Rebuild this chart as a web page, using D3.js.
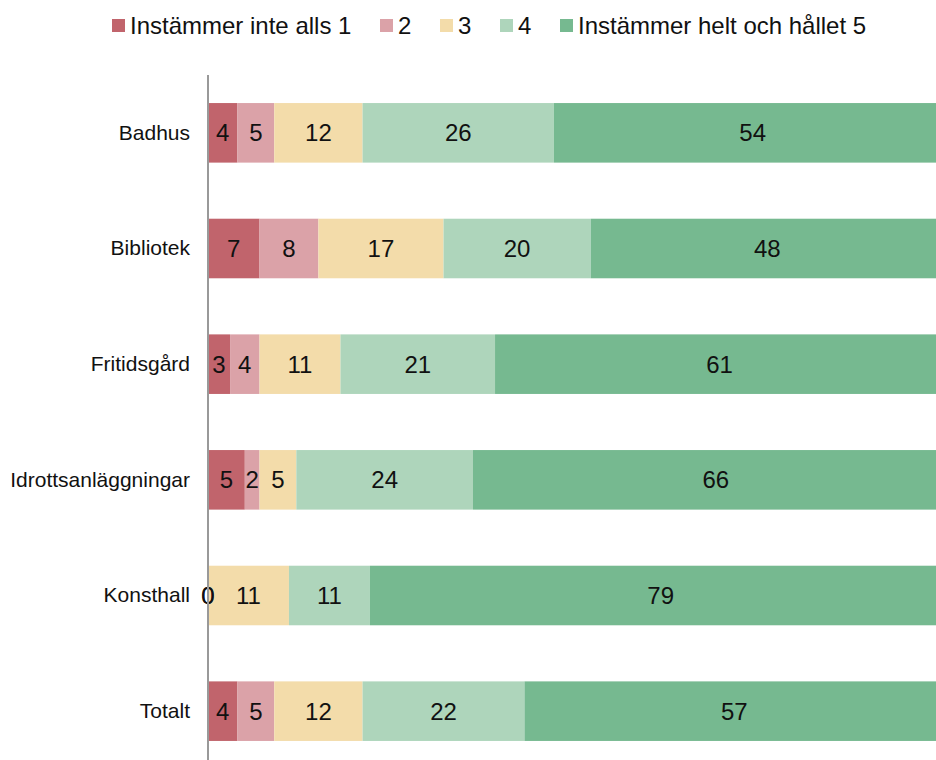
<!DOCTYPE html>
<html>
<head>
<meta charset="utf-8">
<script src="https://cdn.jsdelivr.net/npm/d3@7"></script>
<style>
  body { margin: 0; background: #fff; }
  text { font-family: Arial, "Liberation Sans", sans-serif; fill: #111; }
</style>
</head>
<body>
<div id="root"></div>
<script>
var categories = ['Badhus', 'Bibliotek', 'Fritidsgård', 'Idrottsanläggningar', 'Konsthall', 'Totalt'];
var seriesNames = ['Instämmer inte alls 1', '2', '3', '4', 'Instämmer helt och hållet 5'];
var colours = ['#c1646c', '#dba2a8', '#f3dcaa', '#aed5bb', '#76b990'];

var val1 = [4, 7, 3, 5, 0, 4];
var val2 = [5, 8, 4, 2, 0, 5];
var val3 = [12, 17, 11, 5, 11, 12];
var val4 = [26, 20, 21, 24, 11, 22];
var val5 = [54, 48, 61, 66, 79, 57];

var w = 936,
    h = 760;

var svg = d3.select('#root')
  .append('svg')
    .attr('width', w)
    .attr('height', h);

var x = d3.scaleLinear()
  .domain([0, 100])
  .range([208, 944]);

var y = d3.scaleBand()
  .domain(categories)
  .range([75, 769])
  .paddingInner(0.485)
  .paddingOuter(0.2425);

var series = [val1, val2, val3, val4, val5];

// build stacked rows
var rows = categories.map(function (c, i) {
  var obj = { cat: c };
  seriesNames.forEach(function (s, j) {
    obj[s] = series[j][i];
  });
  return obj;
});

var stacked = d3.stack().keys(seriesNames)(rows);

var layer = svg.selectAll('.layer')
    .data(stacked)
  .enter().append('g')
    .attr('class', 'layer')
    .attr('fill', function (d, i) {
      return colours[i];
    });

layer.selectAll('rect')
    .data(function (d) { return d; })
  .enter().append('rect')
    .attr('x', function (d) { return x(d[0]); })
    .attr('y', function (d) { return y(d.data.cat); })
    .attr('width', function (d) { return x(d[1]) - x(d[0]); })
    .attr('height', y.bandwidth());

// labels on top of every bar segment
var labels = svg.selectAll('.labels')
    .data(stacked)
  .enter().append('g')
    .attr('class', 'labels');

labels.selectAll('text')
    .data(function (d) {
      return d.map(function (p) { p.key = d.key; return p; });
    })
  .enter().append('text')
    .attr('x', function (d) { return (x(d[0]) + x(d[1])) / 2; })
    .attr('y', function (d) { return y(d.data.cat) + y.bandwidth() / 2; })
    .attr('dy', '0.35em')
    .attr('text-anchor', 'middle')
    .style('font-size', '24px')
    .text(function (d) { return d.data[d.key]; });

// category axis
var yAxis = d3.axisLeft(y).tickSize(0).tickPadding(18);
var axisG = svg.append('g')
    .attr('transform', 'translate(208,0)')
    .call(yAxis);
axisG.select('.domain').remove();
axisG.selectAll('text')
    .style('font-size', '21px')
    .attr('fill', '#111');

svg.append('line')
    .attr('x1', 208).attr('x2', 208)
    .attr('y1', 75).attr('y2', h)
    .attr('stroke', '#999')
    .attr('stroke-width', 2);

// legend
var legendX = [112, 380, 440, 500, 560];
var legend = svg.selectAll('.legend')
    .data(seriesNames)
  .enter().append('g')
    .attr('class', 'legend')
    .attr('transform', function (d, i) {
      return 'translate(' + legendX[i] + ',19)';
    });

legend.append('rect')
    .attr('width', 13)
    .attr('height', 13)
    .attr('fill', function (d, i) { return colours[i]; });

legend.append('text')
    .attr('x', 18)
    .attr('y', 6.5)
    .attr('dy', '0.35em')
    .style('font-size', '24px')
    .text(function (d) { return d; });
</script>
</body>
</html>
